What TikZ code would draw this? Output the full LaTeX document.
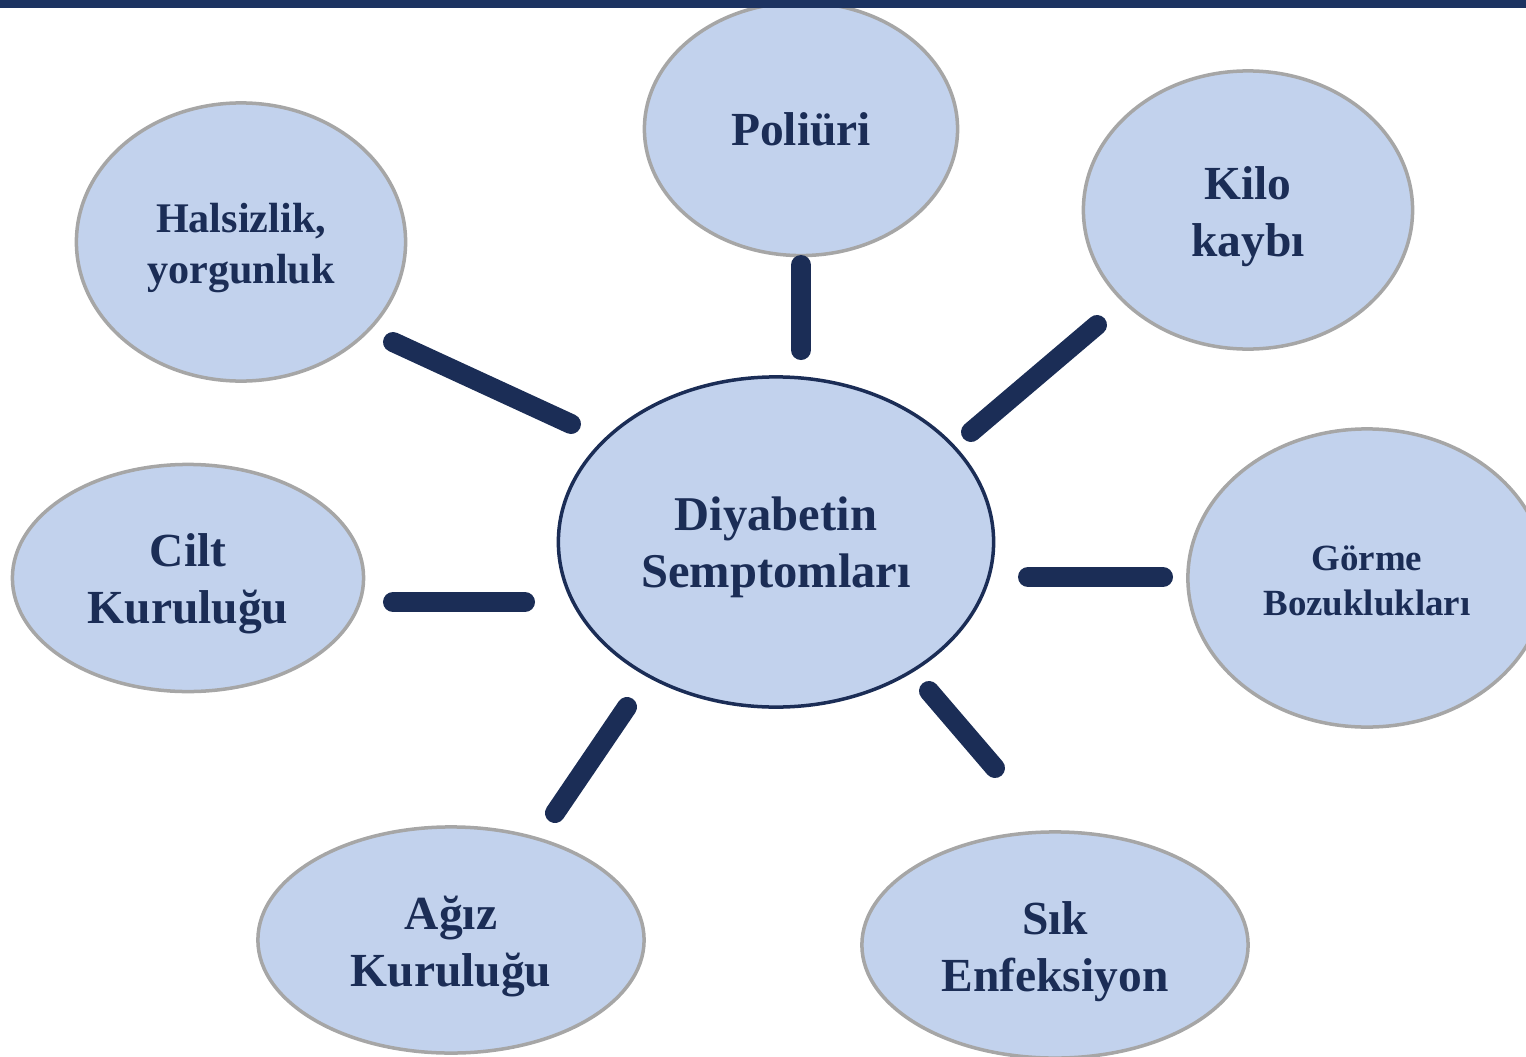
\documentclass[tikz,border=0pt]{standalone}
\usepackage{fontspec}
\setmainfont{Liberation Serif}
\usetikzlibrary{shapes.geometric}

\definecolor{navy}{RGB}{27,45,86}
\definecolor{topbar}{RGB}{28,51,97}
\definecolor{bubblefill}{RGB}{194,210,237}
\definecolor{rimgray}{RGB}{166,166,166}

\newcommand{\hubtext}{\fontsize{13.8}{16.2}\selectfont\bfseries}
\newcommand{\bigtext}{\fontsize{13.5}{16.2}\selectfont\bfseries}
\newcommand{\midtext}{\fontsize{12}{14.5}\selectfont\bfseries}
\newcommand{\smalltext}{\fontsize{10.5}{12.8}\selectfont\bfseries}
% invisible strut that pushes a label down a little
\newcommand{\topgap}[1]{\rule{0pt}{#1}}

\begin{document}
\begin{tikzpicture}[x=0.01cm, y=-0.01cm,
  bubble/.style={ellipse, draw=rimgray, line width=0.035cm, fill=bubblefill,
    text=navy, align=center, inner sep=0pt, font=\bigtext},
  hub/.style={bubble, draw=navy, font=\hubtext},
  spoke/.style={draw=navy, line width=0.2cm, line cap=round}]
\useasboundingbox (0,0) rectangle (1526,1057);
\clip (0,0) rectangle (1526,1057);

% centre
\node[hub, minimum width=4.35cm, minimum height=3.30cm] (hub) at (776,542) {\topgap{0.44cm}Diyabetin\\Semptomları};

% symptoms round the centre
\node[bubble, minimum width=3.13cm, minimum height=2.53cm] (poliuri) at (801,129) {Poliüri};
\node[bubble, minimum width=3.29cm, minimum height=2.78cm] (kilo) at (1248,210) {\topgap{0.46cm}Kilo\\kaybı};
\node[bubble, minimum width=3.29cm, minimum height=2.78cm, font=\midtext] (halsizlik) at (241,242) {\topgap{0.41cm}Halsizlik,\\yorgunluk};
\node[bubble, minimum width=3.51cm, minimum height=2.27cm] (cilt) at (188,578) {\topgap{0.45cm}Cilt\\Kuruluğu};
\node[bubble, minimum width=3.58cm, minimum height=2.98cm, font=\smalltext] (gorme) at (1367,578) {\topgap{0.31cm}Görme\\Bozuklukları};
\node[bubble, minimum width=3.86cm, minimum height=2.26cm] (agiz) at (451,940) {\topgap{0.46cm}Ağız\\Kuruluğu};
\node[bubble, minimum width=3.86cm, minimum height=2.26cm] (sik) at (1055,945) {\topgap{0.46cm}Sık\\Enfeksiyon};

% spokes (free bars between the bubbles)
\foreach \n/\ax/\ay/\bx/\by in {
  poliuri/801/265/801/350,
  kilo/1097/325/971/432,
  halsizlik/393/342/571/424,
  cilt/393/602/525/602,
  gorme/1028/577/1163/577,
  sik/929/691/995/768,
  agiz/555/813/627/707
} {
  \coordinate (\n-out) at (\ax,\ay);
  \coordinate (\n-in) at (\bx,\by);
  \draw[spoke] (\n-out) -- (\n-in);
}

% top bar
\fill[topbar] (0,0) rectangle (1526,8);
\end{tikzpicture}
\end{document}
